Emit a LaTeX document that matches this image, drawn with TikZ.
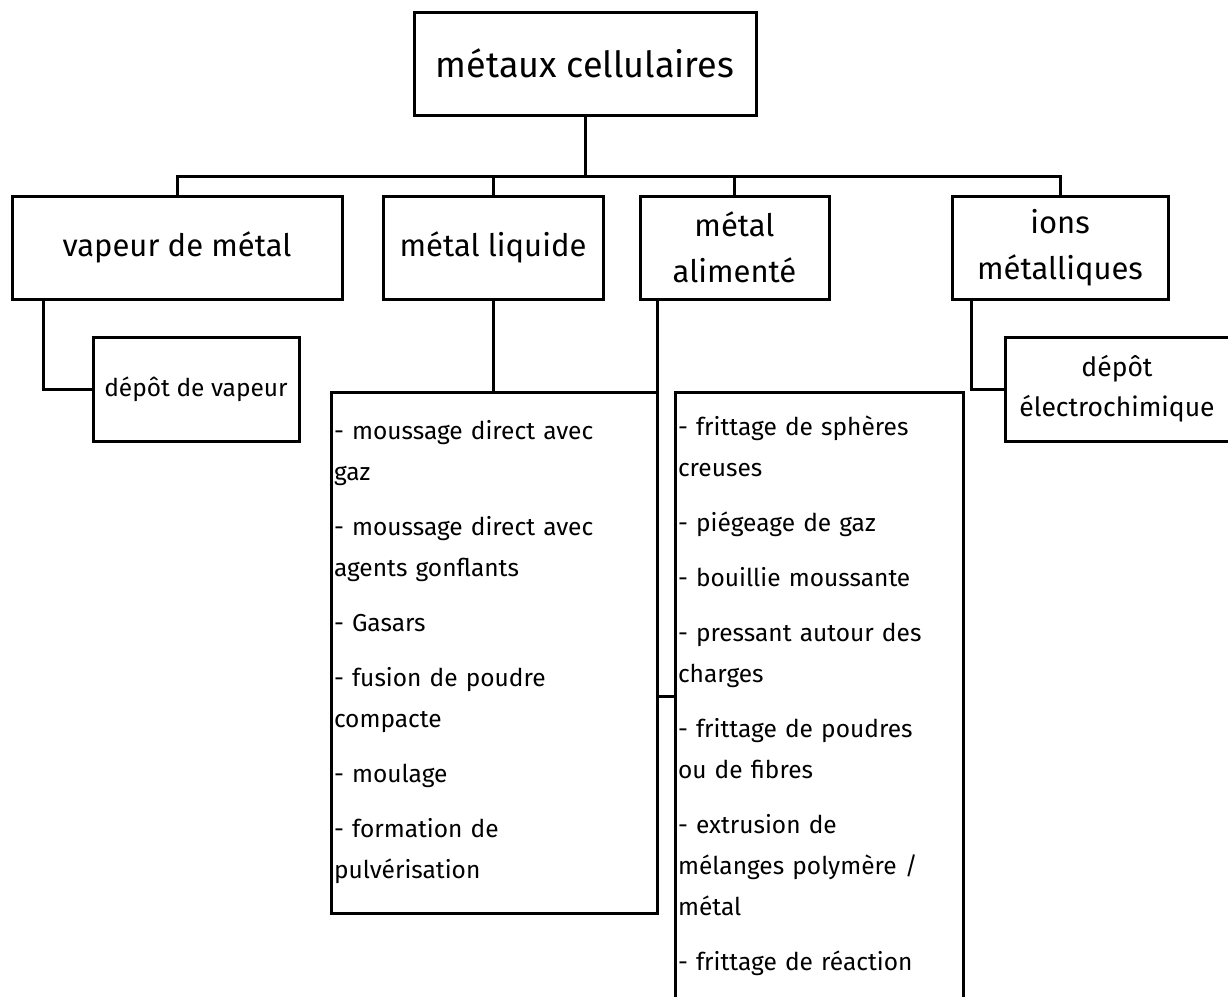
\documentclass[tikz,border=0pt]{standalone}
\usepackage{fontspec}
\setmainfont{Fira Sans}
\begin{document}
\begin{tikzpicture}[x=1pt, y=-1pt, line width=3pt,
        boite/.style={draw, rectangle, inner sep=0pt, align=center},
        niveau/.style={boite, minimum height=103pt, font=\fontsize{31}{46}\selectfont},
        liste/.style={draw, rectangle, inner xsep=3pt, inner ysep=0pt, align=left,
            font=\fontsize{24.5}{41}\selectfont}]
        \path[use as bounding box, clip] (0,0) rectangle (1228,996);

        % racine
        \node[boite, minimum width=342pt, minimum height=103pt,
            font=\fontsize{36}{40}\selectfont] (racine) at (585,63.5) {métaux cellulaires};
        \coordinate (bus) at (585,176);

        % deuxième niveau
        \node[niveau, minimum width=330pt] (vapeur) at (177,247.5) {vapeur de métal};
        \node[niveau, minimum width=220pt] (liquide) at (493,247.5) {métal liquide};
        \node[niveau, minimum width=189pt] (alimente) at (734.5,247.5) {métal\\alimenté};
        \node[niveau, minimum width=216pt] (ions) at (1060,247.5) {ions\\métalliques};
        \foreach \enfant in {vapeur,liquide,alimente,ions}{
            \draw (racine.south) -- (bus) -| (\enfant.north);
        }

        % dépôts
        \node[boite, minimum width=206pt, minimum height=104pt,
            font=\fontsize{24.5}{30}\selectfont] (depvap) at (196,389) {dépôt de vapeur};
        \node[boite, minimum width=224pt, minimum height=104pt,
            font=\fontsize{26.5}{40}\selectfont] (depel) at (1117,389) {dépôt\\électrochimique};
        \draw ([xshift=33pt]vapeur.south west) |- (depvap.west);
        \draw ([xshift=21pt]ions.south west) |- (depel.west);

        % procédés
        \node[liste, text width=320pt, minimum height=521pt] (listliq) at (494,652.5) {
            - moussage direct avec\\gaz\\[14pt]
            - moussage direct avec\\agents gonflants\\[14pt]
            - Gasars\\[14pt]
            - fusion de poudre\\compacte\\[14pt]
            - moulage\\[14pt]
            - formation de\\pulvérisation};
        \node[liste, text width=282pt, minimum height=608pt] (listalim) at (819,696) {
            - frittage de sphères\\creuses\\[14pt]
            - piégeage de gaz\\[14pt]
            - bouillie moussante\\[14pt]
            - pressant autour des\\charges\\[14pt]
            - frittage de poudres\\ou de fibres\\[14pt]
            - extrusion de\\mélanges polymère /\\métal\\[14pt]
            - frittage de réaction};
        \draw (liquide.south) -- (liquide.south |- listliq.north);
        \draw ([xshift=19pt]alimente.south west) |- (listalim.west);
    \end{tikzpicture}
\end{document}
